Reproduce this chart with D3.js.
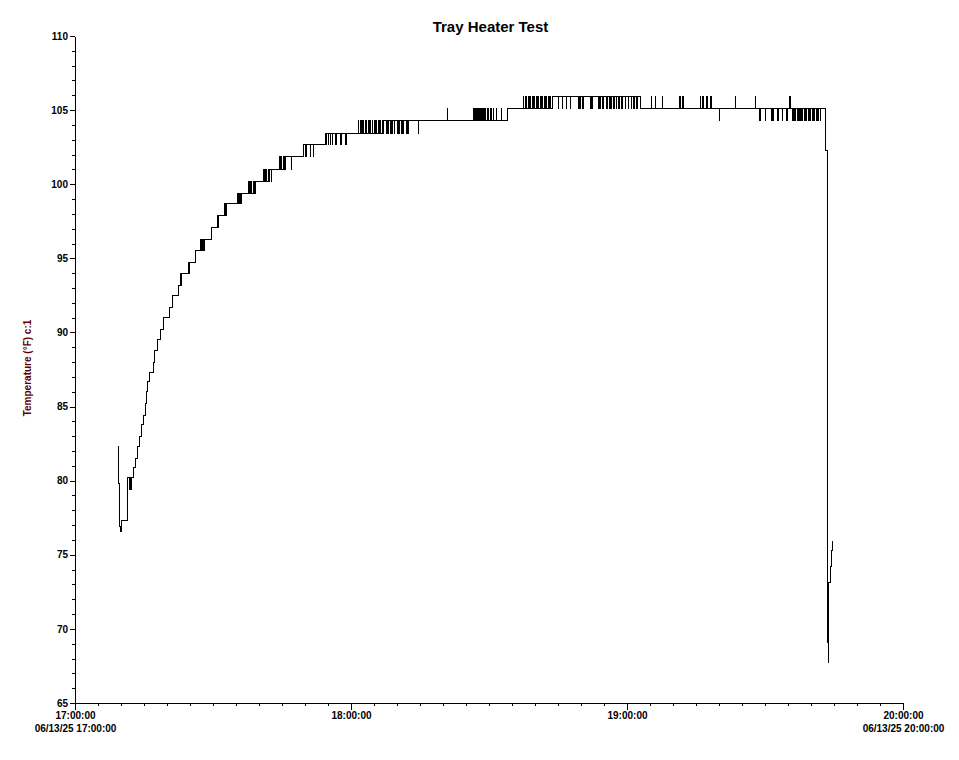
<!DOCTYPE html>
<html>
<head>
<meta charset="utf-8">
<script src="https://cdn.jsdelivr.net/npm/d3@7"></script>
<style>
  html, body { margin: 0; padding: 0; background: #fff; }
  svg { display: block; font-family: "Liberation Sans", Arial, sans-serif; }
</style>
</head>
<body>
<svg id="chart" width="959" height="760"></svg>
<script>
// ---- data (time in minutes after 06/13/25 17:00:00, temperature in °F) ----
const title = "Tray Heater Test";
const yLabel = "Temperature (\u00B0F) c:1";
const baseDate = "2025-06-13T17:00:00";
const domainStartMin = 0, domainEndMin = 180;

// step changes of the logged temperature
const stepMinutes = [9.28, 9.39, 9.57, 9.85, 10.0, 11.37, 12.72, 13.26, 13.63, 13.98, 14.5, 14.85,
  15.22, 15.59, 15.83, 16.15, 17.02, 17.39, 17.89, 18.48, 19.2, 20.5, 21.15, 22.46, 23.04, 24.63,
  26.3, 27.83, 29.57, 31.3, 33.04, 35.87, 38.7, 41.96, 45.22, 49.57, 54.35, 67.17, 94.13, 103.91,
  122.83, 163.26, 163.54, 163.8, 163.91, 164.2, 164.41, 164.63];
const stepTemps = [82.3, 79.8, 76.9, 76.6, 77.3, 80.2, 80.9, 81.5, 82.3, 83.0, 83.8, 84.4,
  85.2, 86.0, 86.7, 87.3, 88.0, 88.8, 89.5, 90.2, 91.0, 91.7, 92.5, 93.2, 94.0, 94.7,
  95.5, 96.3, 97.1, 97.9, 98.7, 99.4, 100.2, 101.0, 101.9, 102.7, 103.4, 104.3, 105.1, 105.9,
  105.1, 102.3, 69.1, 67.7, 73.1, 74.2, 75.3, 75.9];

// single-sample noise readings (brief jumps to a neighbouring level)
const spikeMinutes = [11.85, 12.17, 15.48, 20.37, 23.2, 24.78, 27.39, 27.61, 28.04, 31.02, 32.5, 32.65,
  32.83, 35.33, 35.65, 36.09, 37.72, 37.93, 38.26, 38.91, 39.13, 40.98, 41.2, 41.52, 42.28, 42.61,
  44.46, 44.78, 45.65, 47.07, 49.67, 50.0, 50.33, 51.09, 51.74,
  54.67, 55.0, 55.54, 55.87, 56.63, 56.85, 57.61, 57.93, 58.8, 59.02,
  61.63, 61.96, 62.39, 62.72, 63.26, 63.7, 64.13, 64.57, 65.0, 65.43, 65.87, 66.3, 66.74,
  67.61, 68.04, 68.48, 68.91, 69.35, 70.0, 70.43, 70.87, 71.3, 71.96, 72.39, 74.57, 80.87,
  86.63, 86.85, 87.07, 87.39, 87.61, 87.93, 88.26, 88.48, 88.91, 89.13, 89.57, 89.89, 90.22, 90.54,
  90.87, 91.63, 92.72,
  97.5, 97.83, 98.15, 98.48, 98.91, 99.35, 99.78, 100.22, 100.65, 101.09, 101.52, 101.96, 102.39,
  102.83, 103.26,
  105.0, 105.87, 106.74, 107.61, 109.35, 109.78, 110.43, 111.96, 112.39, 113.7, 114.13, 114.78,
  115.65, 116.09, 116.52, 117.17, 117.61, 118.26, 118.91, 119.57, 120.22, 120.87, 121.52, 122.17,
  125.22, 126.09, 127.61, 131.52, 132.17, 135.87, 136.52, 137.39, 138.26, 143.48, 147.83, 155.43,
  140.0, 148.91, 150.0, 151.52, 151.74, 152.61, 152.83, 153.7, 154.78,
  155.87, 156.3, 156.52, 156.96, 157.39, 157.61, 158.04, 158.48, 158.91, 159.35, 159.78, 160.22,
  160.65, 161.09, 161.52, 161.96];
const spikeTemps = [79.4, 79.4, 85.2, 91.0, 93.2, 94.0, 96.3, 96.3, 95.5, 97.9, 98.7, 98.7,
  98.7, 99.4, 99.4, 98.7, 100.2, 100.2, 100.2, 99.4, 99.4, 101.0, 101.0, 101.0, 100.2, 100.2,
  101.9, 101.9, 101.0, 101.0, 101.9, 101.9, 101.9, 101.9, 101.9,
  102.7, 102.7, 102.7, 102.7, 102.7, 102.7, 102.7, 102.7, 102.7, 102.7,
  104.3, 104.3, 104.3, 104.3, 104.3, 104.3, 104.3, 104.3, 104.3, 104.3, 104.3, 104.3, 104.3,
  103.4, 103.4, 103.4, 103.4, 103.4, 103.4, 103.4, 103.4, 103.4, 103.4, 103.4, 103.4, 105.1,
  105.1, 105.1, 105.1, 105.1, 105.1, 105.1, 105.1, 105.1, 105.1, 105.1, 105.1, 105.1, 105.1, 105.1,
  105.1, 105.1, 105.1,
  105.9, 105.9, 105.9, 105.9, 105.9, 105.9, 105.9, 105.9, 105.9, 105.9, 105.9, 105.9, 105.9,
  105.9, 105.9,
  105.1, 105.1, 105.1, 105.1, 105.1, 105.1, 105.1, 105.1, 105.1, 105.1, 105.1, 105.1,
  105.1, 105.1, 105.1, 105.1, 105.1, 105.1, 105.1, 105.1, 105.1, 105.1, 105.1, 105.1,
  105.9, 105.9, 105.9, 105.9, 105.9, 105.9, 105.9, 105.9, 105.9, 105.9, 105.9, 105.9,
  104.3, 104.3, 104.3, 104.3, 104.3, 104.3, 104.3, 104.3, 104.3,
  104.3, 104.3, 104.3, 104.3, 104.3, 104.3, 104.3, 104.3, 104.3, 104.3, 104.3, 104.3,
  104.3, 104.3, 104.3, 104.3];
const spikeLengthMin = 0.06;

const yMajorTicks = [65, 70, 75, 80, 85, 90, 95, 100, 105, 110];
const xMajorTickMinutes = [0, 60, 120, 180];
const xDateLabels = ["06/13/25 17:00:00", "", "", "06/13/25 20:00:00"];
const labelColor = "#5a0000";

// ---- build series ----
const t0 = new Date(baseDate);
const toDate = m => new Date(t0.getTime() + m * 60000);

const steps = stepMinutes.map((m, i) => ({ m, v: stepTemps[i] }));
const bis = d3.bisector(d => d.m).right;
const baseAt = m => steps[Math.max(0, bis(steps, m) - 1)].v;

let pts = steps.slice();
spikeMinutes.forEach((m, i) => {
  pts.push({ m, v: spikeTemps[i] });
  pts.push({ m: m + spikeLengthMin, v: baseAt(m) });
});
pts.sort((a, b) => a.m - b.m);

// ---- layout ----
const svg = d3.select("#chart");
const x = d3.scaleTime().domain([toDate(domainStartMin), toDate(domainEndMin)]).range([75, 903]);
const y = d3.scaleLinear().domain([65, 110]).range([703, 36]);

svg.append("text")
  .attr("x", 490.5).attr("y", 32)
  .attr("text-anchor", "middle")
  .attr("font-size", 15).attr("font-weight", "bold")
  .text(title);

svg.append("text")
  .attr("transform", "translate(31,368) rotate(-90)")
  .attr("text-anchor", "middle")
  .attr("font-size", 10).attr("font-weight", "bold")
  .attr("fill", labelColor)
  .text(yLabel);

// minor ticks
const yMinor = d3.range(65, 111, 1);
svg.append("g").attr("transform", "translate(75,0)")
  .call(d3.axisLeft(y).tickValues(yMinor).tickSize(3).tickSizeOuter(0).tickFormat(""))
  .call(g => g.select(".domain").remove());
const xMinor = d3.range(0, 181, 5).map(toDate);
svg.append("g").attr("transform", "translate(0,703)")
  .call(d3.axisBottom(x).tickValues(xMinor).tickSize(3).tickSizeOuter(0).tickFormat(""))
  .call(g => g.select(".domain").remove());

// major axes
const yAxis = svg.append("g").attr("transform", "translate(75,0)")
  .call(d3.axisLeft(y).tickValues(yMajorTicks).tickSize(5).tickSizeOuter(0).tickPadding(2));
yAxis.selectAll("text").attr("font-size", 10).attr("font-weight", "bold")
  .attr("font-family", '"Liberation Sans", Arial, sans-serif').attr("fill", "#000");

const fmt = d3.timeFormat("%H:%M:%S");
const xAxis = svg.append("g").attr("transform", "translate(0,703)")
  .call(d3.axisBottom(x).tickValues(xMajorTickMinutes.map(toDate)).tickSize(7).tickSizeOuter(0)
    .tickPadding(2).tickFormat(fmt));
xAxis.selectAll("text").attr("font-size", 10).attr("font-weight", "bold")
  .attr("font-family", '"Liberation Sans", Arial, sans-serif').attr("fill", "#000");
xAxis.selectAll(".tick").each(function (d, i) {
  if (xDateLabels[i]) {
    d3.select(this).append("text")
      .attr("y", 22).attr("dy", "0.71em")
      .attr("text-anchor", "middle")
      .attr("font-size", 10).attr("font-weight", "bold")
      .attr("font-family", '"Liberation Sans", Arial, sans-serif')
      .attr("fill", "#000")
      .text(xDateLabels[i]);
  }
});
svg.selectAll(".domain, .tick line").attr("stroke", "#000").attr("shape-rendering", "crispEdges");

// data line
const line = d3.line()
  .x(d => x(toDate(d.m)))
  .y(d => y(d.v))
  .curve(d3.curveStepAfter);
svg.append("path")
  .datum(pts)
  .attr("d", line)
  .attr("fill", "none")
  .attr("stroke", "#000")
  .attr("stroke-width", 1)
  .attr("shape-rendering", "crispEdges");
</script>
</body>
</html>
